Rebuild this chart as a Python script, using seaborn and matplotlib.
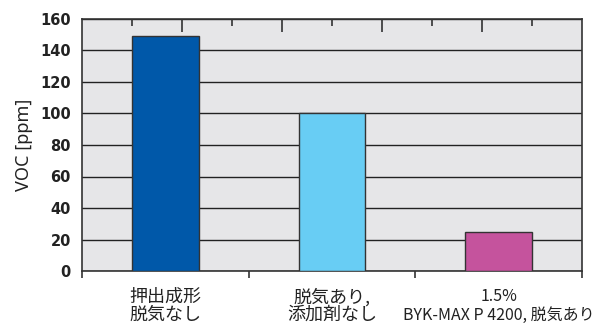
import matplotlib
matplotlib.use("Agg")
import matplotlib.pyplot as plt
from matplotlib.ticker import FixedLocator
import seaborn as sns
import pandas as pd

# Chart data
categories = ["押出成形\n脱気なし", "脱気あり,\n添加剤なし", "1.5%\nBYK-MAX P 4200, 脱気あり"]
voc_ppm = [149, 100, 25]
bar_colors = ["#0058a9", "#68cdf4", "#c5539d"]
y_ticks = [0, 20, 40, 60, 80, 100, 120, 140, 160]

sns.set_theme(style="white")
plt.rcParams["font.family"] = ["Noto Sans CJK JP", "DejaVu Sans"]

df = pd.DataFrame({"cat": categories, "voc": voc_ppm})

fig = plt.figure(figsize=(5.95, 3.25), dpi=100)
ax = fig.add_axes([82 / 595, 1 - 271 / 325, 500 / 595, 252 / 325])
ax.set_facecolor("#e6e6e8")

sns.barplot(data=df, x="cat", y="voc", hue="cat", palette=bar_colors,
            saturation=1, legend=False, width=0.4, edgecolor="#333333",
            linewidth=1.0, ax=ax, zorder=3)

ax.set_xlim(-0.5, 2.5)
ax.set_ylim(0, 160)
ax.yaxis.set_major_locator(FixedLocator(y_ticks))
ax.grid(axis="y", color="#222222", linewidth=1.0, zorder=0)
ax.set_axisbelow(True)

for s in ax.spines.values():
    s.set_visible(True)
    s.set_color("#333333")
    s.set_linewidth(1.2)

# category boundaries as ticks on the bottom axis
ax.set_xticks([0, 1, 2])
ax.xaxis.set_minor_locator(FixedLocator([-0.5, 0.5, 1.5, 2.5]))
ax.tick_params(axis="x", which="major", length=0, pad=12, labelsize=13,
               colors="#222222")
ax.tick_params(axis="x", which="minor", length=5, width=1.2, color="#333333",
               direction="out")
xlabels = ax.get_xticklabels()
for lbl in xlabels:
    lbl.set_linespacing(1.0)
# the long third label is set tighter so it stays inside the figure
xlabels[2].set_fontsize(11.5)
xlabels[2].set_linespacing(1.15)

ax.tick_params(axis="y", length=5, width=1.2, color="#333333", direction="out",
               pad=3, labelsize=10.5, labelcolor="#222222")
for lbl in ax.get_yticklabels():
    lbl.set_fontweight("bold")
    lbl.set_fontfamily(["DejaVu Sans"])
ax.set_xlabel("")
ax.set_ylabel("VOC [ppm]", fontsize=13, color="#222222", labelpad=5,
              fontfamily=["Noto Sans", "DejaVu Sans"])

# inward ticks along the top edge
top = ax.twiny()
top.set_xlim(0, 10)
top.xaxis.set_major_locator(FixedLocator([2, 4, 6, 8]))
top.xaxis.set_minor_locator(FixedLocator([1, 3, 5, 7, 9]))
top.tick_params(axis="x", which="major", direction="in", length=9, width=1.2,
                color="#333333", labeltop=False)
top.tick_params(axis="x", which="minor", direction="in", length=5, width=1.2,
                color="#333333")
for s in top.spines.values():
    s.set_visible(False)

fig.savefig("out.png", dpi=100)
